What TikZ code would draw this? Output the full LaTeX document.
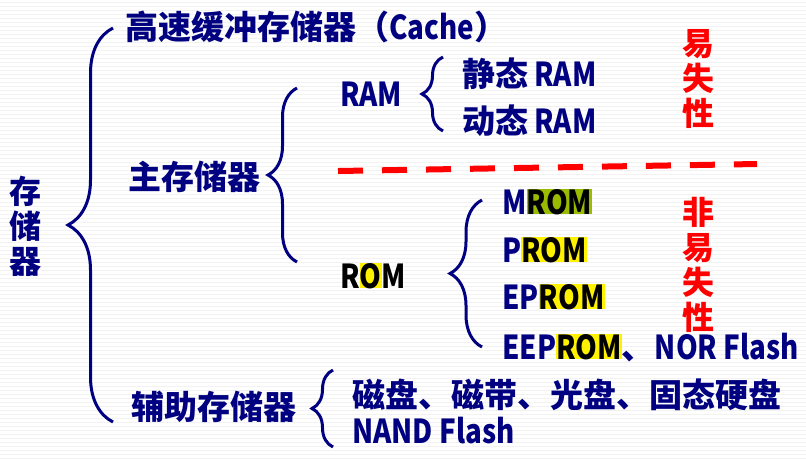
\documentclass[tikz,border=0pt]{standalone}
\usepackage{fontspec}
\setmainfont{Noto Sans CJK SC}
\newfontfamily\latf{Noto Sans CJK SC}[FakeStretch=0.84]
\usetikzlibrary{decorations.pathreplacing}
\definecolor{blu}{RGB}{0,0,128}
\definecolor{oliva}{RGB}{153,187,0}
\newcommand{\lat}[1]{{\latf\bfseries #1}}
\newcommand{\hlrom}[2]{{\setlength{\fboxsep}{0pt}\colorbox{#1}{\color{black}#2}}}
\tikzset{
	lbl/.style={inner sep=0pt, anchor=base west, text=blu, font=\bfseries\fontsize{24.75pt}{26pt}\selectfont},
	col/.style={inner sep=0pt, align=center, font=\bfseries\fontsize{24pt}{26.25pt}\selectfont},
	graffa/.style={draw=blu, line width=2.25pt, decorate, decoration={brace, amplitude=#1}},
	stripe/.style={draw=black!5, line width=0.75pt}
}
\begin{document}
\begin{tikzpicture}[x=0.75pt, y=-0.75pt]
			\useasboundingbox (0, 0) rectangle (806, 458);
			% sfondo a righe
			\fill[white] (0, 0) rectangle (806, 458);
			\foreach \y in {2, 6, ..., 458}
				\draw[stripe] (0, \y) -- (806, \y);
			% testi
			\node[col, text=blu] (mem) at (25, 226) {存\\储\\器};
			\node[lbl] (cache) at (125, 39) {高速缓冲存储器（\lat{Cache}）};
			\node[lbl] (main) at (128, 189) {主存储器};
			\node[lbl] (ram) at (340, 106) {\lat{RAM}};
			\node[lbl] (sram) at (462, 86) {静态\lat{ RAM}};
			\node[lbl] (dram) at (462, 133) {动态\lat{ RAM}};
			\node[lbl] (rom) at (340, 288) {\lat{\textcolor{black}{R}\hlrom{yellow}{O}\textcolor{black}{M}}};
			\node[lbl] (mrom) at (502, 214) {\lat{M\hlrom{oliva}{ROM}}};
			\node[lbl] (prom) at (502, 262) {\lat{P\hlrom{yellow}{ROM}}};
			\node[lbl] (eprom) at (502, 309) {\lat{EP\hlrom{yellow}{ROM}}};
			\node[lbl] (eeprom) at (502, 359) {\lat{EEP\hlrom{yellow}{ROM}}、\lat{NOR Flash}};
			\node[lbl] (aux) at (131, 419) {辅助存储器};
			\node[lbl] (disk) at (352, 407) {磁盘、磁带、光盘、固态硬盘};
			\node[lbl] (nand) at (352, 443) {\lat{NAND Flash}};
			% volatile / non volatile
			\node[col, text=red] (vol) at (698, 79) {易\\失\\性};
			\node[col, text=red] (nonvol) at (698, 265) {非\\易\\失\\性};
			\draw[red, line width=4.5pt, dash pattern=on 18.75pt off 14.25pt] (338, 171) -- (757, 164);
			% graffe
			\draw[graffa=33.75pt] (113, 422) -- (113, 28);
			\draw[graffa=21.75pt] (297, 262) -- (297, 88);
			\draw[graffa=15.75pt] (443, 131) -- (443, 57);
			\draw[graffa=24pt] (482, 347) -- (482, 200);
			\draw[graffa=15.75pt] (333, 447) -- (333, 370);
		\end{tikzpicture}
\end{document}
